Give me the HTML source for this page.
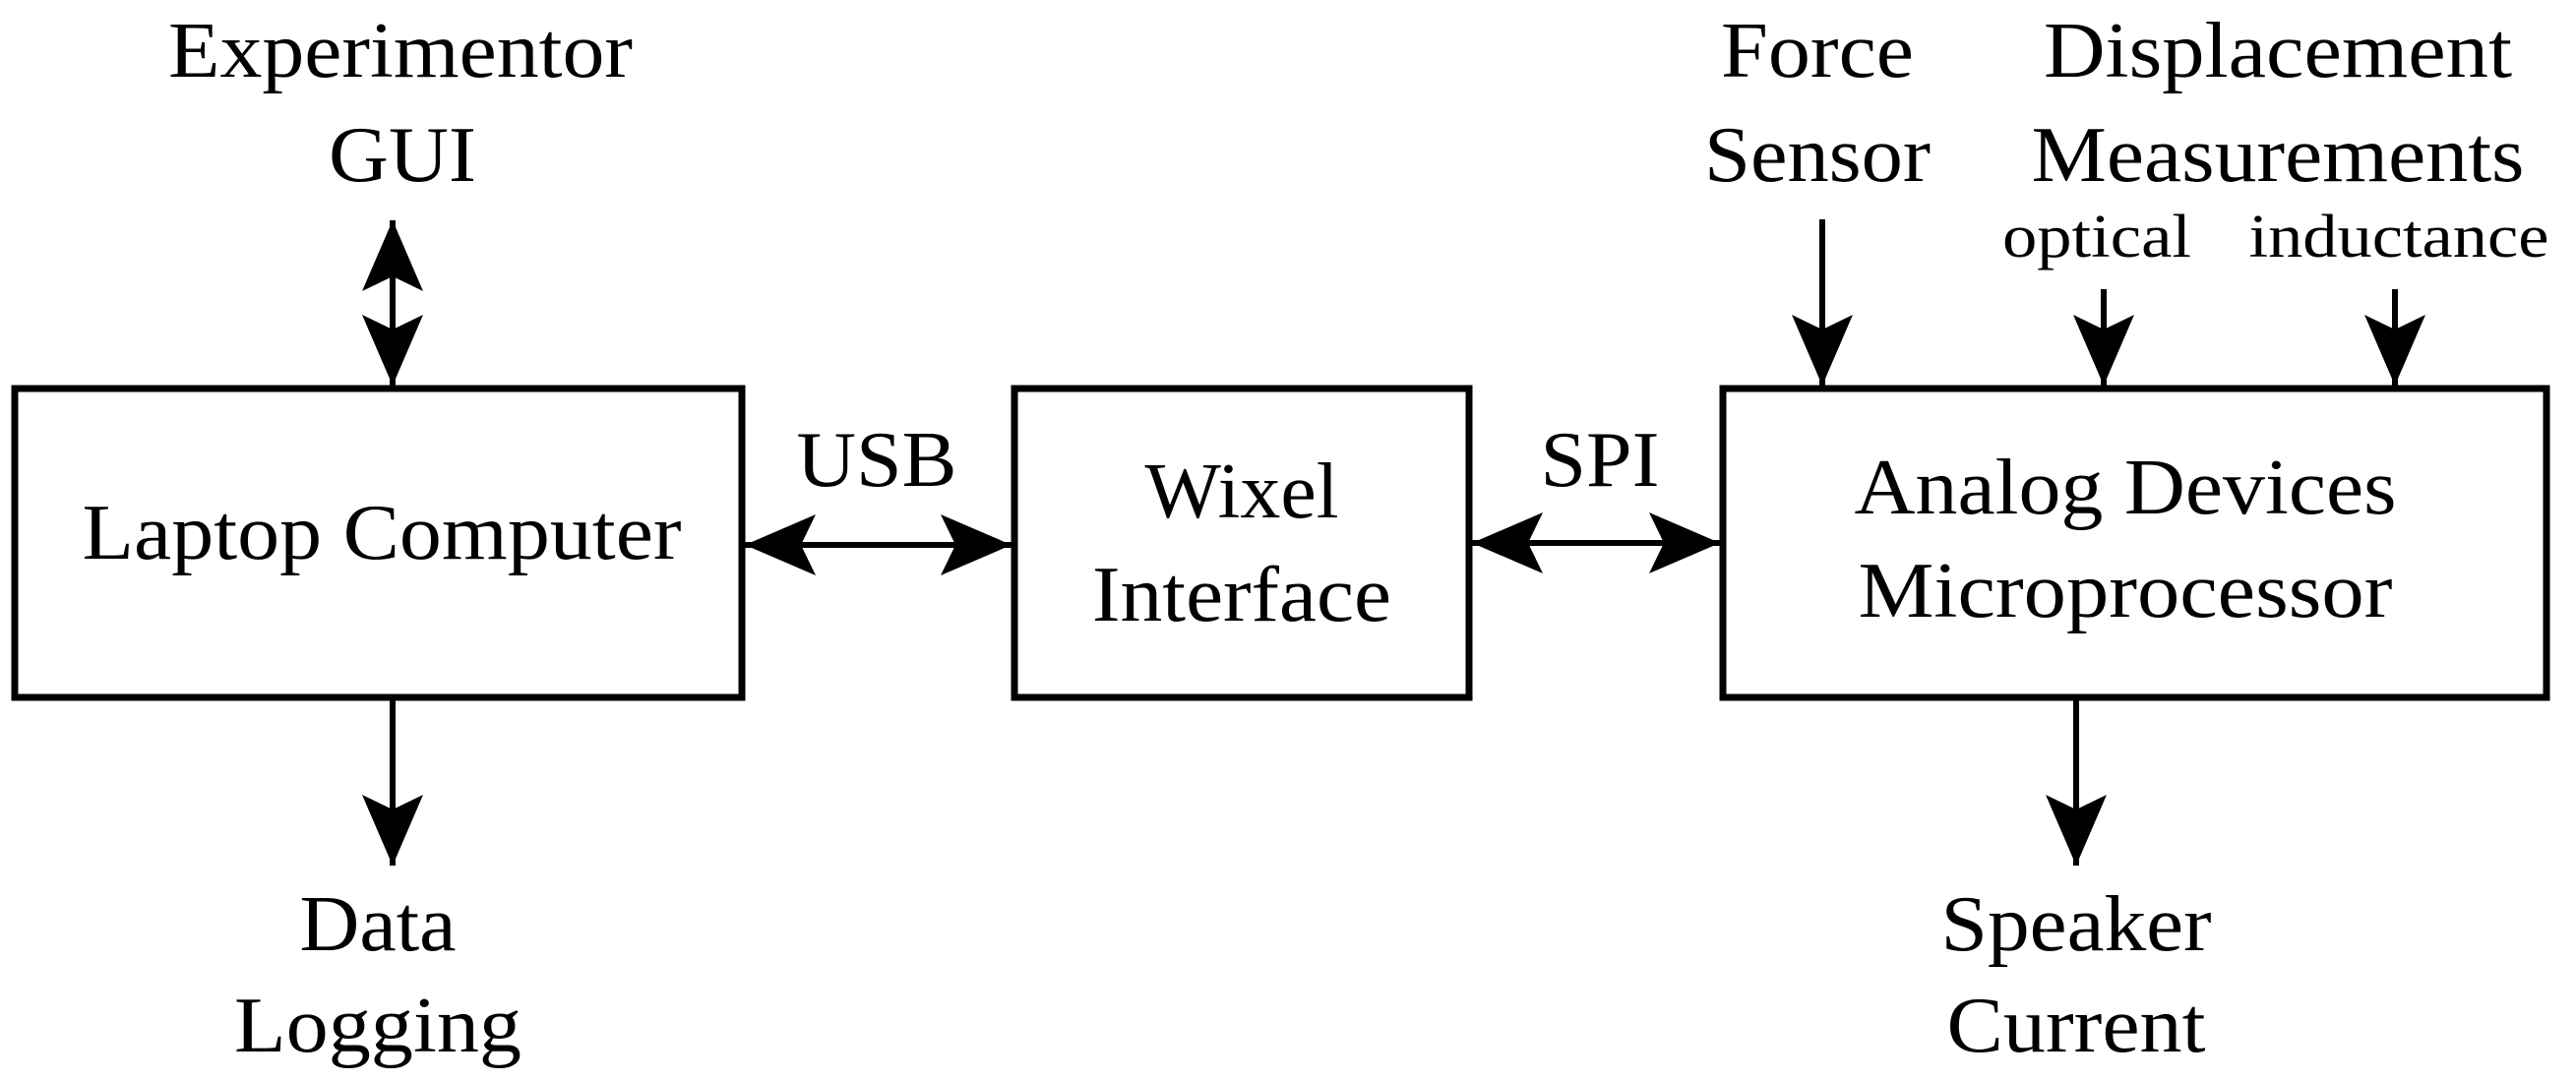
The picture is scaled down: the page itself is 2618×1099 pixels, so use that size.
<!DOCTYPE html>
<html><head><meta charset="utf-8"><style>html,body{margin:0;padding:0;background:#fff}svg{display:block}</style></head><body>
<svg width="2618" height="1099" viewBox="0 0 2618 1099" xmlns="http://www.w3.org/2000/svg">
<defs>
<marker id="a" markerUnits="userSpaceOnUse" markerWidth="80" markerHeight="80" refX="72" refY="31" orient="auto-start-reverse">
<path d="M0,0 L72,31 L0,62 L15,31 Z" fill="#000"/>
</marker>
</defs>
<g fill="none" stroke="#000" stroke-width="7">
<rect x="15" y="395" width="739" height="314"/>
<rect x="1031" y="395" width="462" height="314"/>
<rect x="1751" y="395" width="837" height="314"/>
</g>
<g stroke="#000" stroke-width="6" fill="none">
<line x1="399" y1="224" x2="399" y2="392" marker-start="url(#a)" marker-end="url(#a)"/>
<line x1="399" y1="712" x2="399" y2="880" marker-end="url(#a)"/>
<line x1="757" y1="554" x2="1028" y2="554" marker-start="url(#a)" marker-end="url(#a)"/>
<line x1="1496" y1="552" x2="1748" y2="552" marker-start="url(#a)" marker-end="url(#a)"/>
<line x1="1852" y1="223" x2="1852" y2="392" marker-end="url(#a)"/>
<line x1="2138" y1="294" x2="2138" y2="392" marker-end="url(#a)"/>
<line x1="2434" y1="294" x2="2434" y2="392" marker-end="url(#a)"/>
<line x1="2110" y1="712" x2="2110" y2="880" marker-end="url(#a)"/>
</g>
<g font-family="Liberation Serif, serif" font-size="80" fill="#000" text-anchor="middle">
<text x="407" y="78" textLength="472" lengthAdjust="spacingAndGlyphs">Experimentor</text>
<text x="409" y="184" textLength="150" lengthAdjust="spacingAndGlyphs">GUI</text>
<text x="388" y="568" textLength="609" lengthAdjust="spacingAndGlyphs">Laptop Computer</text>
<text x="384" y="966" textLength="159" lengthAdjust="spacingAndGlyphs">Data</text>
<text x="384" y="1069" textLength="292" lengthAdjust="spacingAndGlyphs">Logging</text>
<text x="891" y="494" textLength="163" lengthAdjust="spacingAndGlyphs">USB</text>
<text x="1262" y="526" textLength="197" lengthAdjust="spacingAndGlyphs">Wixel</text>
<text x="1262" y="631" textLength="304" lengthAdjust="spacingAndGlyphs">Interface</text>
<text x="1626" y="494" textLength="121" lengthAdjust="spacingAndGlyphs">SPI</text>
<text x="2160" y="522" textLength="551" lengthAdjust="spacingAndGlyphs">Analog Devices</text>
<text x="2160" y="627" textLength="543" lengthAdjust="spacingAndGlyphs">Microprocessor</text>
<text x="1847" y="78" textLength="196" lengthAdjust="spacingAndGlyphs">Force</text>
<text x="1847" y="184" textLength="230" lengthAdjust="spacingAndGlyphs">Sensor</text>
<text x="2315" y="78" textLength="476" lengthAdjust="spacingAndGlyphs">Displacement</text>
<text x="2315" y="184" textLength="501" lengthAdjust="spacingAndGlyphs">Measurements</text>
<text x="2110" y="966" textLength="275" lengthAdjust="spacingAndGlyphs">Speaker</text>
<text x="2110" y="1069" textLength="263" lengthAdjust="spacingAndGlyphs">Current</text>
<text x="2131" y="261" font-size="62" textLength="192" lengthAdjust="spacingAndGlyphs">optical</text>
<text x="2438" y="261" font-size="62" textLength="305" lengthAdjust="spacingAndGlyphs">inductance</text>
</g>
</svg>
</body></html>
